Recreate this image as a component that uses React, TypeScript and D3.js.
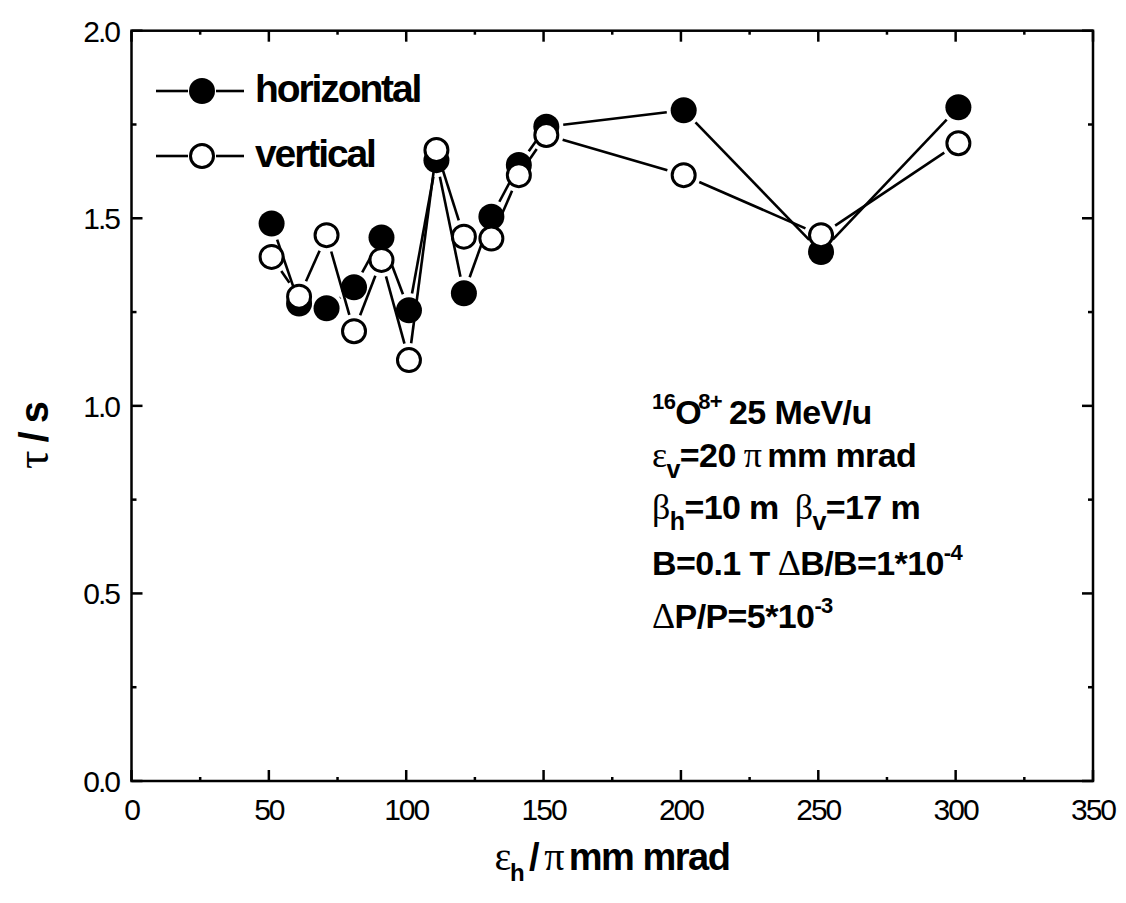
import React from "react";
import * as d3 from "d3";

// Beam lifetime vs. horizontal emittance
const emittance = [51, 61, 71, 81, 91, 101, 111, 121, 131, 141, 151, 201, 251, 301];
const tauHorizontal = [1.486, 1.273, 1.26, 1.316, 1.449, 1.255, 1.655, 1.3, 1.504, 1.642, 1.744, 1.788, 1.41, 1.796];
const tauVertical = [1.397, 1.291, 1.455, 1.199, 1.389, 1.122, 1.682, 1.451, 1.446, 1.615, 1.722, 1.615, 1.455, 1.7];

const xTicks = [0, 50, 100, 150, 200, 250, 300, 350];
const xMinorTicks = [25, 75, 125, 175, 225, 275, 325];
const yTicks = [0, 0.5, 1.0, 1.5, 2.0];
const yMinorTicks = [0.25, 0.75, 1.25, 1.75];

const W = 1126;
const H = 903;
const L = 131.5, R = 1093, T = 30.7, B = 781;

const x = d3.scaleLinear().domain([0, 350]).range([L, R]);
const y = d3.scaleLinear().domain([0, 2]).range([B, T]);

const SANS = "'Liberation Sans', Arial, Helvetica, sans-serif";
const GREEK = "'Liberation Serif', 'Times New Roman', serif";

const MR = 13; // marker radius
const GAP = 4;

function segments(xs: number[], ys: number[]) {
  const pts = xs.map((v, i) => [x(v), y(ys[i])] as [number, number]);
  const out: string[] = [];
  for (let i = 0; i < pts.length - 1; i++) {
    const [x1, y1] = pts[i];
    const [x2, y2] = pts[i + 1];
    const dx = x2 - x1, dy = y2 - y1;
    const len = Math.hypot(dx, dy);
    const cut = MR + GAP;
    if (len <= 2 * cut) continue;
    const ux = dx / len, uy = dy / len;
    out.push(
      d3.line()([
        [x1 + ux * cut, y1 + uy * cut],
        [x2 - ux * cut, y2 - uy * cut],
      ]) as string
    );
  }
  return out;
}

const fmt = d3.format(".1f");

export default function App() {
  const hSegs = segments(emittance, tauHorizontal);
  const vSegs = segments(emittance, tauVertical);
  const tickFont = { fontFamily: SANS, fontSize: 30, letterSpacing: -2 } as React.CSSProperties;
  const bold = { fontFamily: SANS, fontWeight: 700 } as React.CSSProperties;
  const greek = { fontFamily: GREEK, fontWeight: 400 } as React.CSSProperties;

  const annX = 652;
  const fs = 34;
  const sfs = 22;
  const gfs = 36;

  return (
    <svg width={W} height={H} style={{ position: "absolute", left: 0, top: 0, background: "#fff" }}>
      <rect x={0} y={0} width={W} height={H} fill="#fff" />

      {/* horizontal series */}
      <g stroke="#000" strokeWidth={2.6} fill="none">
        {hSegs.map((d, i) => (
          <path key={"h" + i} d={d} />
        ))}
      </g>
      <g>
        {emittance.map((e, i) => (
          <circle key={"hc" + i} cx={x(e)} cy={y(tauHorizontal[i])} r={MR} fill="#000" />
        ))}
      </g>

      {/* vertical series */}
      <g stroke="#000" strokeWidth={2.6} fill="none">
        {vSegs.map((d, i) => (
          <path key={"v" + i} d={d} />
        ))}
      </g>
      <g>
        {emittance.map((e, i) => (
          <circle key={"vc" + i} cx={x(e)} cy={y(tauVertical[i])} r={MR - 1.5} fill="#fff" stroke="#000" strokeWidth={3} />
        ))}
      </g>

      {/* frame */}
      <rect x={L} y={T} width={R - L} height={B - T} fill="none" stroke="#000" strokeWidth={2.5} />

      {/* ticks */}
      <g stroke="#000" strokeWidth={2.5}>
        {xTicks.map((t) => (
          <g key={"xt" + t}>
            <line x1={x(t)} x2={x(t)} y1={B} y2={B - 11} />
            <line x1={x(t)} x2={x(t)} y1={T} y2={T + 11} />
          </g>
        ))}
        {xMinorTicks.map((t) => (
          <g key={"xm" + t}>
            <line x1={x(t)} x2={x(t)} y1={B} y2={B - 4} />
            <line x1={x(t)} x2={x(t)} y1={T} y2={T + 4} />
          </g>
        ))}
        {yTicks.map((t) => (
          <g key={"yt" + t}>
            <line x1={L} x2={L + 11} y1={y(t)} y2={y(t)} />
            <line x1={R} x2={R - 11} y1={y(t)} y2={y(t)} />
          </g>
        ))}
        {yMinorTicks.map((t) => (
          <g key={"ym" + t}>
            <line x1={L} x2={L + 5} y1={y(t)} y2={y(t)} />
            <line x1={R} x2={R - 5} y1={y(t)} y2={y(t)} />
          </g>
        ))}
      </g>

      {/* tick labels */}
      <g style={tickFont} fill="#000">
        {xTicks.map((t) => (
          <text key={"xl" + t} x={x(t)} y={820} textAnchor="middle">
            {t}
          </text>
        ))}
        {yTicks.map((t) => (
          <text key={"yl" + t} x={119} y={y(t) + 11} textAnchor="end">
            {fmt(t)}
          </text>
        ))}
      </g>

      {/* axis titles */}
      <text x={612} y={870} textAnchor="middle" fontSize={38} fill="#000" style={bold} letterSpacing={-1.5}>
        <tspan style={greek} fontSize={40}>ε</tspan>
        <tspan fontSize={24} dy={11}>h</tspan>
        <tspan dy={-11} dx={6}>/</tspan>
        <tspan style={greek} fontSize={40} dx={6}>π</tspan>
        <tspan dx={6}>mm mrad</tspan>
      </text>
      <text
        transform={`translate(48, 435) rotate(-90)`}
        textAnchor="middle"
        fontSize={40}
        fill="#000"
        style={bold}
      >
        <tspan style={greek} fontSize={46}>τ</tspan>
        <tspan dx={8}>/</tspan>
        <tspan dx={8}>s</tspan>
      </text>

      {/* legend */}
      <g stroke="#000" strokeWidth={2.6}>
        <line x1={156} x2={188} y1={91} y2={91} />
        <line x1={216} x2={244} y1={91} y2={91} />
        <line x1={156} x2={188} y1={156} y2={156} />
        <line x1={216} x2={244} y1={156} y2={156} />
      </g>
      <circle cx={202} cy={91} r={MR} fill="#000" />
      <circle cx={202} cy={156} r={MR - 1.5} fill="#fff" stroke="#000" strokeWidth={3} />
      <text x={255} y={102} fontSize={39} letterSpacing={-2.1} fill="#000" style={bold}>
        horizontal
      </text>
      <text x={255} y={167} fontSize={39} letterSpacing={-2.1} fill="#000" style={bold}>
        vertical
      </text>

      {/* run conditions */}
      <g fill="#000" style={bold} fontSize={fs} letterSpacing={-0.6}>
        <text x={annX} y={424}>
          <tspan fontSize={sfs} dy={-15}>16</tspan>
          <tspan dy={15}>O</tspan>
          <tspan fontSize={sfs} dy={-15} dx={-3}>8+</tspan>
          <tspan dy={15} dx={7}>25 MeV/u</tspan>
        </text>
        <text x={annX} y={467}>
          <tspan style={greek} fontSize={gfs}>ε</tspan>
          <tspan fontSize={sfs + 3} dy={11}>v</tspan>
          <tspan dy={-11}>=20</tspan>
          <tspan style={greek} fontSize={gfs} dx={8}>π</tspan>
          <tspan dx={6}>mm mrad</tspan>
        </text>
        <text x={annX} y={519}>
          <tspan style={greek} fontSize={gfs}>β</tspan>
          <tspan fontSize={sfs + 3} dy={11}>h</tspan>
          <tspan dy={-11}>=10 m</tspan>
          <tspan style={greek} fontSize={gfs} dx={16}>β</tspan>
          <tspan fontSize={sfs + 3} dy={11}>v</tspan>
          <tspan dy={-11}>=17 m</tspan>
        </text>
        <text x={annX} y={575}>
          <tspan>B=0.1 T</tspan>
          <tspan style={greek} fontSize={gfs} dx={8}>Δ</tspan>
          <tspan>B/B=1*10</tspan>
          <tspan fontSize={sfs} dy={-15}>-4</tspan>
        </text>
        <text x={annX} y={628}>
          <tspan style={greek} fontSize={gfs}>Δ</tspan>
          <tspan>P/P=5*10</tspan>
          <tspan fontSize={sfs} dy={-15}>-3</tspan>
        </text>
      </g>
    </svg>
  );
}
